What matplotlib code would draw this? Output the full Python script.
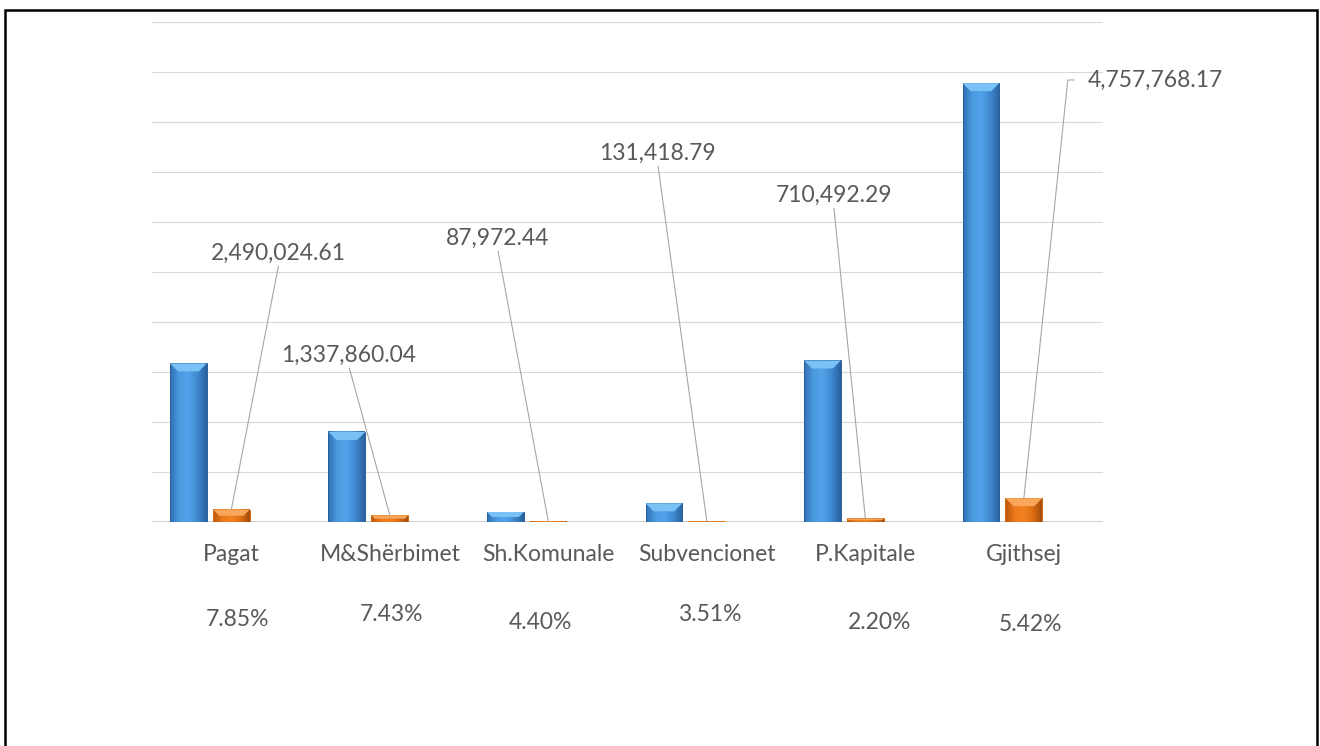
import numpy as np
import matplotlib
matplotlib.use("Agg")
import matplotlib.pyplot as plt
from matplotlib.colors import LinearSegmentedColormap
from matplotlib.patches import Polygon, Rectangle

# data (amounts in millions)
categories = ['Pagat', 'M&Shërbimet', 'Sh.Komunale', 'Subvencionet', 'P.Kapitale', 'Gjithsej']
planned = [31.72, 18.01, 2.00, 3.74, 32.30, 87.78]
spent = [2.490, 1.338, 0.088, 0.131, 0.710, 4.758]
spent_text = ['2,490,024.61', '1,337,860.04', '87,972.44', '131,418.79',
              '710,492.29', '4,757,768.17']
pct_text = ['7.85%', '7.43%', '4.40%', '3.51%', '2.20%', '5.42%']

# where the value labels sit (data coords)
lab_x = [0.30, 0.74, 1.68, 2.69, 3.80, 5.405]
lab_y = [53.8, 33.4, 56.8, 73.8, 65.4, 88.4]
# small offsets of the percentage boxes
pct_dx = [0.04, 0.01, -0.05, 0.02, 0.09, 0.04]
pct_y = [-0.196, -0.186, -0.202, -0.186, -0.202, -0.206]

TXT = '#595959'
FS = 16.5
plt.rcParams['font.family'] = ['Lato', 'DejaVu Sans']

fig = plt.figure(figsize=(13.2, 7.46), dpi=100)
ax = fig.add_axes([0.1152, 0.3003, 0.7205, 0.6702])

ux = 6.0 / 951   # data units per pixel
uy = 100.0 / 500

blue_stops = ['#3171b6', '#4b9ae0', '#52a3ea', '#3f88cf', '#2a619f']
orange_stops = ['#b9560c', '#ec781c', '#f18320', '#df6e14', '#a44d0b']


def fancy_bar(xc, h, w, stops, top_col, edge_col):
    x0, x1 = xc - w / 2, xc + w / 2
    cmap = LinearSegmentedColormap.from_list('g', stops)
    grad = np.linspace(0, 1, 64).reshape(1, -1)
    ax.imshow(grad, cmap=cmap, extent=(x0, x1, 0, h), aspect='auto',
              interpolation='bicubic', zorder=2)
    ax.add_patch(Rectangle((x0, 0), w, h, fill=False, ec=edge_col, lw=0.7, zorder=3))
    bh = min(8 * uy, h * 0.5)
    bw = min(8 * ux, bh / uy * ux)
    ax.add_patch(Polygon([(x0, h), (x1, h), (x1 - bw, h - bh), (x0 + bw, h - bh)],
                         closed=True, fc=top_col, ec='none', zorder=3))


w = 0.232
off = 0.271
for i in range(len(categories)):
    fancy_bar(i - off, planned[i], w, blue_stops, '#79c2f6', '#2a5f9a')
    fancy_bar(i, spent[i], w, orange_stops, '#f9a55a', '#d0680f')

# value labels with leader lines
for i in range(len(categories)):
    if i == len(categories) - 1:
        ha, rel, cs, sh = 'left', (0, 0.5), 'angle,angleA=0,angleB=84,rad=0', 8
    else:
        ha, rel, cs, sh = 'center', (0.5, 0), 'arc3', 0
    ax.annotate(spent_text[i], xy=(i, spent[i]), xytext=(lab_x[i], lab_y[i]),
                ha=ha, va='center', fontsize=FS, color=TXT, annotation_clip=False,
                arrowprops=dict(arrowstyle='-', color='#a6a6a6', lw=0.8,
                                shrinkA=sh, shrinkB=0, relpos=rel, connectionstyle=cs))

tr = ax.get_xaxis_transform()
for i, c in enumerate(categories):
    ax.text(i, -0.066, c, transform=tr, ha='center', va='center', fontsize=FS, color=TXT)
    ax.text(i + pct_dx[i], pct_y[i], pct_text[i], transform=tr, ha='center',
            va='center', fontsize=FS, color=TXT)

ax.set_xlim(-0.5, 5.5)
ax.set_ylim(0, 100)
ax.set_yticks(np.arange(0, 101, 10))
ax.yaxis.grid(True, color='#d9d9d9', lw=0.8)
ax.set_axisbelow(True)
ax.axhline(0, color='#d0d0d0', lw=1.4, zorder=1)
ax.tick_params(left=False, bottom=False, labelleft=False, labelbottom=False)
for s in ax.spines.values():
    s.set_visible(False)

fig.add_artist(Rectangle((0.0038, -0.05), 0.9939, 1.0366, transform=fig.transFigure,
                         fill=False, ec='black', lw=1.8))

fig.savefig('out.png', dpi=100)
